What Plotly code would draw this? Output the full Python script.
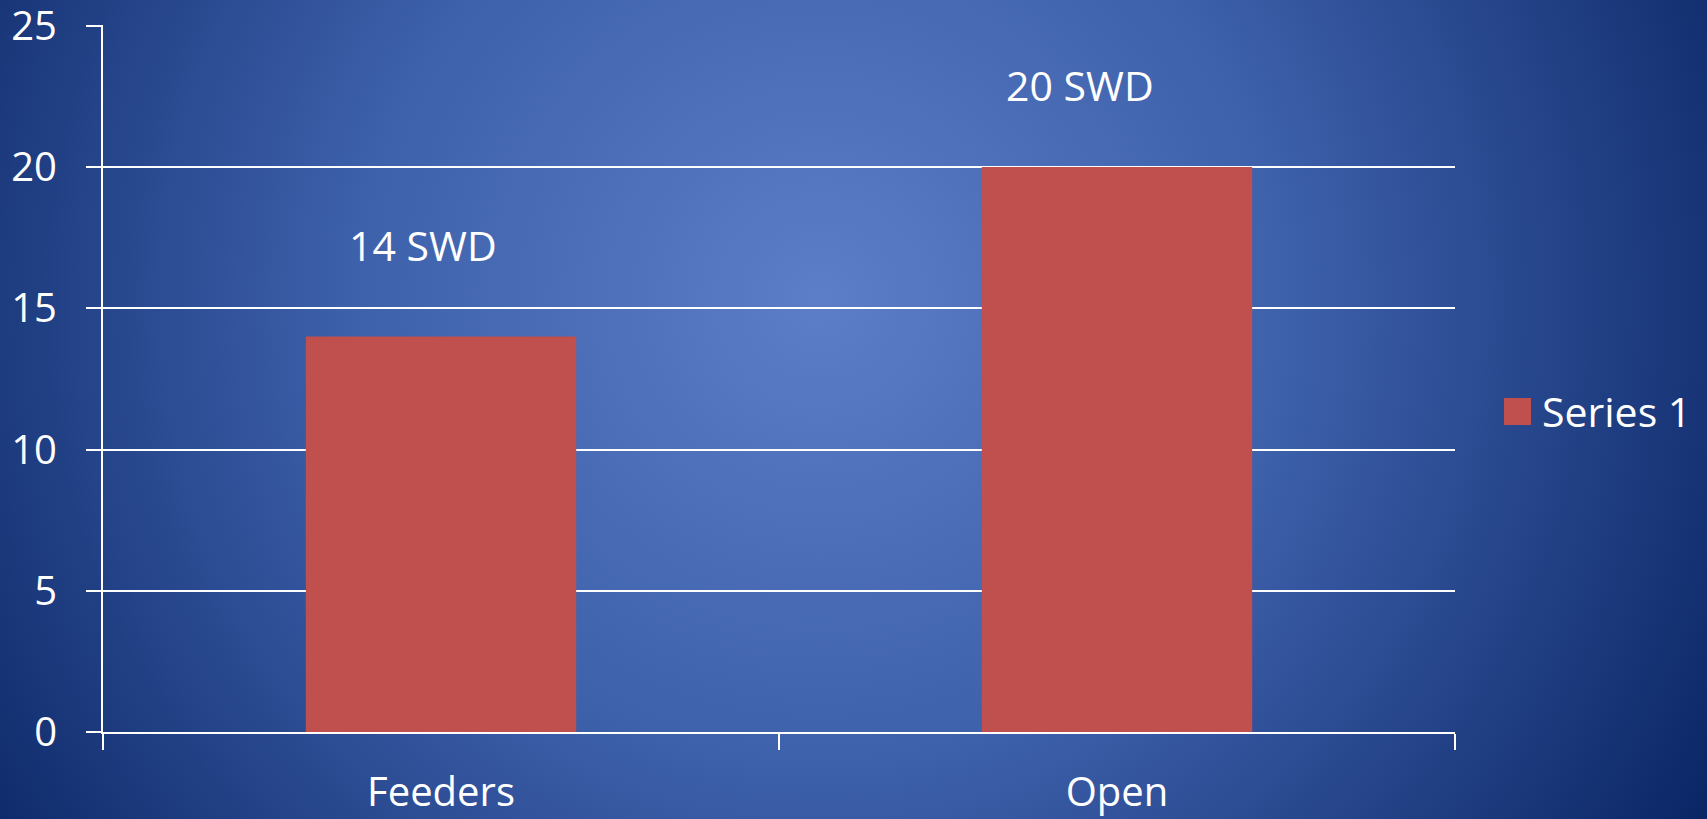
import base64
import plotly.graph_objects as go

# data
categories = ["Feeders", "Open"]
values = [14, 20]
label_texts = ["14 SWD", "20 SWD"]
series_name = "Series 1"
y_ticks = [0, 5, 10, 15, 20, 25]

W, H = 1707, 819
BAR = "#C0504D"
FONT = "Open Sans"

# radial blue background, as an inline svg
svg = f"""<svg xmlns="http://www.w3.org/2000/svg" width="{W}" height="{H}" viewBox="0 0 {W} {H}" preserveAspectRatio="none">
<defs><radialGradient id="g" gradientUnits="userSpaceOnUse" cx="820" cy="300" r="1030">
<stop offset="0" stop-color="rgb(92,125,199)"/>
<stop offset="0.45" stop-color="rgb(62,97,172)"/>
<stop offset="1" stop-color="rgb(10,37,100)"/>
</radialGradient></defs>
<rect width="{W}" height="{H}" fill="url(#g)"/></svg>"""
bg_src = "data:image/svg+xml;base64," + base64.b64encode(svg.encode()).decode()

ml, mr, mt, mb = 103, 252, 25, 87
pw, ph = W - ml - mr, H - mt - mb

fig = go.Figure()
fig.add_trace(go.Bar(x=categories, y=values, name=series_name,
                     marker=dict(color=BAR, line=dict(width=0)),
                     showlegend=False))

# data labels, placed a bit above the bars (like the excel ones)
for cat, v, txt, dx, dy in zip(categories, values, label_texts, [-18, -37], [7, -3]):
    fig.add_annotation(x=cat, y=v + 3, text=txt, showarrow=False,
                       xshift=dx, yshift=dy,
                       font=dict(family=FONT, size=41, color="white"))

# legend drawn by hand so the swatch is big enough
fig.add_shape(type="rect", xref="paper", yref="paper",
              x0=(1504 - ml) / pw, x1=(1531 - ml) / pw,
              y0=1 - (425 - mt) / ph, y1=1 - (398 - mt) / ph,
              fillcolor=BAR, line_width=0)
fig.add_annotation(xref="paper", yref="paper", x=(1540 - ml) / pw,
                   y=1 - (411.5 - mt) / ph, text=series_name, showarrow=False,
                   xanchor="left", yanchor="middle",
                   font=dict(family=FONT, size=41, color="white"))

fig.update_layout(
    width=W, height=H,
    margin=dict(l=ml, r=mr, t=mt, b=mb, pad=0),
    paper_bgcolor="rgb(10,37,100)",
    plot_bgcolor="rgba(0,0,0,0)",
    bargap=0.6,
    font=dict(family=FONT, size=40, color="white"),
    images=[dict(source=bg_src, xref="paper", yref="paper",
                 x=-ml / pw, y=1 + mt / ph, sizex=W / pw, sizey=H / ph,
                 sizing="stretch", xanchor="left", yanchor="top",
                 layer="below")],
)
fig.update_xaxes(type="category", showline=True, linecolor="white", linewidth=2,
                 ticks="outside", tickson="boundaries", ticklen=16, tickwidth=2,
                 tickcolor="white", showgrid=False, ticklabelstandoff=24,
                 automargin=False)
fig.update_yaxes(range=[0, 25.03], tickvals=y_ticks, showline=True, linecolor="white",
                 linewidth=2, ticks="outside", ticklen=15, tickwidth=2,
                 tickcolor="white", gridcolor="white", gridwidth=2,
                 zeroline=False, ticklabelstandoff=21, ticklabeloverflow="allow",
                 automargin=False)

# no page margin, so the chart sits at the window's corner
fig.write_html("out.html", config={"displayModeBar": False},
               post_script="document.body.style.margin='0';")
